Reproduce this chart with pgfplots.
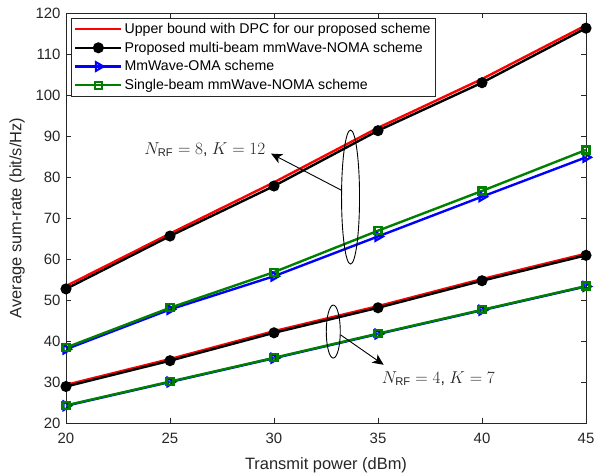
\documentclass[border=0pt]{standalone}
\usepackage{fontspec}
\setmainfont{Liberation Sans}
\usepackage{pgfplots}
\pgfplotsset{compat=1.18}
\usetikzlibrary{calc, arrows.meta}
\definecolor{mRed}{RGB}{255,0,0}
\definecolor{mBlue}{RGB}{0,0,255}
\definecolor{mGreen}{RGB}{0,128,0}
\definecolor{axGray}{RGB}{38,38,38}
\begin{document}
\begin{tikzpicture}
\begin{axis}[
  scale only axis,
  width=520bp, height=410bp,
  xmin=20, xmax=45, ymin=20, ymax=120,
  xtick={20,25,...,45}, ytick={20,30,...,120},
  tick align=inside,
  axis line style={draw=axGray},
  tick style={draw=axGray},
  major tick length=5bp,
  /pgf/number format/assume math mode=true,
  tick label style={font=\fontsize{15}{18}\selectfont, text=axGray},
  xticklabel style={yshift=-7bp},
  yticklabel style={xshift=-2bp},
  label style={font=\fontsize{16.5}{19}\selectfont, text=axGray},
  xlabel={Transmit power (dBm)},
  ylabel={Average sum-rate (bit/s/Hz)},
  xlabel style={at={(axis description cs:0.5,-0.102)}, anchor=center},
  ylabel style={at={(axis description cs:-0.094,0.5)}, anchor=center},
  legend style={at={(0,1)}, anchor=north west, xshift=5bp, yshift=-5bp,
    font=\fontsize{14.2}{17}\selectfont,
    draw=axGray, inner xsep=3bp, inner ysep=3bp, row sep=3bp, cells={anchor=west}},
  legend image code/.code={\draw[#1] (0bp,0bp) -- (46bp,0bp) plot coordinates {(23bp,0bp)};},
]
\coordinate (ll) at (rel axis cs:0,0);
\coordinate (ur) at (rel axis cs:1,1);
% N_RF = 8, K = 12
\addplot[mRed, line width=2.4pt, no marks] coordinates {
  (20,53.4) (25,66.2) (30,78.7) (35,92.0) (40,103.9) (45,117.0)};
\addlegendentry{Upper bound with DPC for our proposed scheme}
\addplot[black, line width=2.4pt, mark=*, mark size=4.3pt] coordinates {
  (20,52.7) (25,65.6) (30,77.8) (35,91.3) (40,103.0) (45,116.3)};
\addlegendentry{Proposed multi-beam mmWave-NOMA scheme}
\addplot[mBlue, line width=2.4pt, mark=triangle, mark size=5pt,
  mark options={rotate=-90, line width=2.2pt}] coordinates {
  (20,38.0) (25,47.7) (30,55.8) (35,65.5) (40,75.2) (45,84.8)};
\addlegendentry{MmWave-OMA scheme}
\addplot[mGreen, line width=2.4pt, mark=square, mark size=3.5pt,
  mark options={line width=2.2pt}] coordinates {
  (20,38.4) (25,48.1) (30,56.8) (35,66.9) (40,76.6) (45,86.6)};
\addlegendentry{Single-beam mmWave-NOMA scheme}
% N_RF = 4, K = 7
\addplot[mRed, line width=2.4pt, no marks, forget plot] coordinates {
  (20,29.3) (25,35.6) (30,42.4) (35,48.5) (40,55.1) (45,61.3)};
\addplot[black, line width=2.4pt, mark=*, mark size=4.3pt, forget plot] coordinates {
  (20,28.9) (25,35.2) (30,42.0) (35,48.1) (40,54.7) (45,60.9)};
\addplot[mBlue, line width=2.4pt, mark=triangle, mark size=5pt,
  mark options={rotate=-90, line width=2.2pt}, forget plot] coordinates {
  (20,24.2) (25,30.0) (30,35.8) (35,41.7) (40,47.5) (45,53.3)};
\addplot[mGreen, line width=2.4pt, mark=square, mark size=3.5pt,
  mark options={line width=2.2pt}, forget plot] coordinates {
  (20,24.3) (25,30.1) (30,35.9) (35,41.8) (40,47.6) (45,53.4)};
% annotations
\draw[line width=0.9pt] (axis cs:33.68,75.1) ellipse [x radius=9bp, y radius=67bp];
\draw[line width=0.9pt, -{Stealth[length=11bp, width=10bp, inset=3bp]}]
  (axis cs:33.23,76.8) -- (axis cs:29.86,85.7);
\node[font=\fontsize{16}{18}\selectfont, text=black!85, anchor=east] at (axis cs:29.75,86.7)
  {$N_{\mathrm{RF}}=8$, $K=12$};
\draw[line width=0.9pt] (axis cs:32.85,42.3) ellipse [x radius=7bp, y radius=26.5bp];
\draw[line width=0.9pt, -{Stealth[length=11bp, width=10bp, inset=3bp]}]
  (axis cs:33.2,41.5) -- (axis cs:35.27,34.2);
\node[font=\fontsize{16}{18}\selectfont, text=black!85] at (axis cs:37.9,30.8)
  {$N_{\mathrm{RF}}=4$, $K=7$};
\end{axis}
\pgfresetboundingbox
\path[use as bounding box] ($(ll)+(-66bp,-53bp)$) rectangle ($(ur)+(9bp,13bp)$);
\end{tikzpicture}
\end{document}
